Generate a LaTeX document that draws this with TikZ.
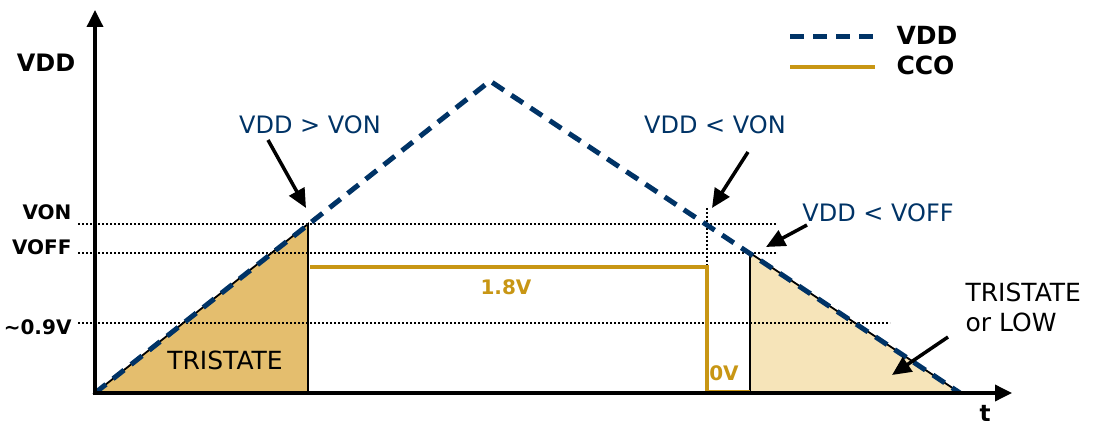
\documentclass[tikz,border=0pt]{standalone}
\usepackage{fontspec}
\setmainfont{DejaVu Sans}
\usetikzlibrary{arrows.meta, positioning}

\definecolor{vddblue}{RGB}{0,51,102}
\definecolor{ccogold}{RGB}{200,150,20}
\definecolor{tristfill}{RGB}{228,190,110}
\definecolor{lowfill}{RGB}{246,228,185}

\tikzset{
  vddline/.style={vddblue, line width=5pt, dash pattern=on 14pt off 9pt},
  ccoline/.style={ccogold, line width=3.5pt},
  levelline/.style={black, line width=2.6pt, dash pattern=on 2pt off 2pt},
  axisline/.style={black, line width=3.5pt, -{Triangle[length=17pt,width=16pt]}},
  callout/.style={black, line width=3.5pt, -{Triangle[length=19pt,width=17pt]}},
  bluelabel/.style={vddblue, font=\fontsize{24}{28}\selectfont},
  levellabel/.style={anchor=east, font=\fontsize{20}{24}\selectfont\bfseries},
  voltlabel/.style={ccogold, font=\fontsize{20}{24}\selectfont\bfseries},
  statelabel/.style={font=\fontsize{25}{30}\selectfont}
}

\begin{document}
\begin{tikzpicture}[x=1pt, y=1pt]
    \useasboundingbox (0,0) rectangle (1094,426);

    % Tristate areas
    \filldraw[fill=tristfill, draw=black, line width=1.8pt] (95,33) -- (308,202) -- (308,33) -- cycle;
    \filldraw[fill=lowfill, draw=black, line width=1.8pt] (750,173) -- (960,33) -- (750,33) -- cycle;

    % Levels
    \draw[levelline] (78,202) -- (777,202);
    \draw[levelline] (78,173) -- (777,173);
    \draw[levelline] (78,103) -- (890,103);
    \draw[levelline] (707,218) -- (707,161);

    \node[levellabel] (von) at (75,214) {VON};
    \node[levellabel] (voff) at (75,179) {VOFF};
    \node[levellabel] (v09) at (75,99) {\textasciitilde0.9V};

    % CCO output
    \draw[ccoline] (310,159) -- (707,159) -- (707,34) -- (750,34);
    \node[voltlabel] (hi) at (506,139) {1.8V};
    \node[voltlabel] (lo) at (724,53) {0V};

    % VDD ramp
    \draw[vddline] (95,33) -- (490,345) -- (960,33);

    % Axes
    \draw[axisline] (95,31) -- (95,416);
    \draw[axisline] (93,33) -- (1012,33);
    \node[font=\fontsize{24}{28}\selectfont\bfseries] (yname) at (46,363) {VDD};
    \node[font=\fontsize{23}{26}\selectfont\bfseries] (tname) at (985,13) {t};

    % Callouts
    \node[bluelabel] (up) at (310,301) {VDD > VON};
    \node[bluelabel] (down) at (715,301) {VDD < VON};
    \node[bluelabel] (off) at (878,213) {VDD < VOFF};
    \coordinate (upstart) at (268,286);
    \coordinate (upend) at (306,218);
    \coordinate (downstart) at (748,274);
    \coordinate (downend) at (712,218);
    \coordinate (offstart) at (807,201);
    \coordinate (offend) at (766,179);
    \draw[callout] (upstart) -- (upend);
    \draw[callout] (downstart) -- (downend);
    \draw[callout] (offstart) -- (offend);

    \node[statelabel] (tri) at (225,66) {TRISTATE};
    \node[statelabel, anchor=west, align=left] (trilow) at (962,119) {TRISTATE\\or LOW};
    \coordinate (lowstart) at (948,89);
    \coordinate (lowend) at (892,51);
    \draw[callout] (lowstart) -- (lowend);

    % Legend
    \coordinate (lega) at (790,389);
    \coordinate (legb) at (875,389);
    \coordinate (legc) at (790,359);
    \coordinate (legd) at (875,359);
    \draw[vddline] (lega) -- (legb);
    \draw[ccoline] (legc) -- (legd);
    \node[anchor=west, font=\fontsize{25}{28}\selectfont\bfseries] (legvdd) at (893,391) {VDD};
    \node[anchor=west, font=\fontsize{25}{28}\selectfont\bfseries] (legcco) at (893,361) {CCO};
\end{tikzpicture}
\end{document}
